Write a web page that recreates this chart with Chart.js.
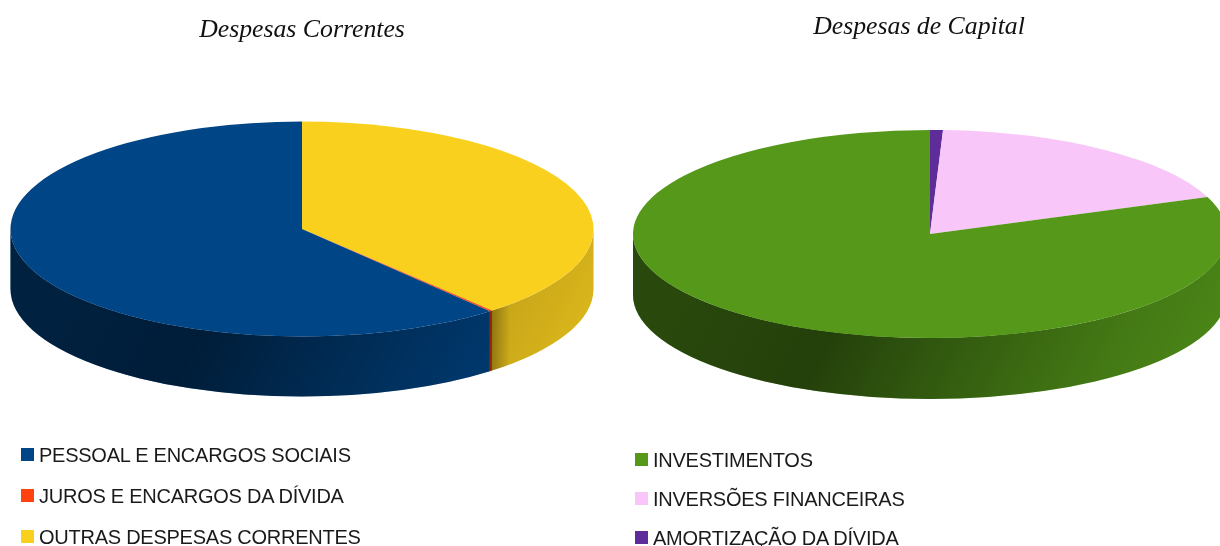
<!DOCTYPE html>
<html lang="pt">
<head>
    <meta charset="UTF-8">
    <title>Despesas</title>
    <script src="https://cdn.jsdelivr.net/npm/chart.js"></script>
    <style>
        html, body { margin: 0; background: #fff; overflow: hidden; width: 1220px; height: 546px; }
        canvas { position: absolute; top: 0; }
        #correntes { left: 0; }
        #capital { left: 622px; }
        .titulo { position: absolute; width: 400px; text-align: center; color: #111;
                  font: italic 25.75px "Liberation Serif", serif; line-height: 30px; }
        .item { position: absolute; color: #1a1a1a; white-space: nowrap;
                font: 20px "Liberation Sans", sans-serif; line-height: 24px; letter-spacing: -0.25px; }
        .item i { position: absolute; top: 5px; width: 13px; height: 13px; }
    </style>
</head>
<body>
  <canvas id="correntes" width="604" height="458"></canvas>
  <canvas id="capital" width="616" height="468"></canvas>
  <div class="titulo" style="left:102px;top:14px">Despesas Correntes</div>
  <div class="titulo" style="left:719px;top:11px">Despesas de Capital</div>
  <div id="legendas"></div>

  <script>
    const categoriasCorrentes = ['PESSOAL E ENCARGOS SOCIAIS', 'JUROS E ENCARGOS DA DÍVIDA', 'OUTRAS DESPESAS CORRENTES'];
    const valoresCorrentes = [61.15, 0.15, 38.7];
    const coresCorrentes = ['#004586', '#ff420e', '#fad01f'];

    const categoriasCapital = ['INVESTIMENTOS', 'INVERSÕES FINANCEIRAS', 'AMORTIZAÇÃO DA DÍVIDA'];
    const valoresCapital = [80.8, 18.5, 0.7];
    const coresCapital = ['#55981a', '#f8c6f9', '#5f2d9a'];

    // sombra preta da lateral, da esquerda para a direita da pizza
    const sombra = [[0, 0.52], [0.3, 0.58], [0.5, 0.42], [0.8, 0.2], [1, 0.1]];

    // achata a pizza e desenha a lateral por baixo
    const pizza3d = {
      id: 'pizza3d',
      beforeDatasetsDraw(chart, args, opts) {
        const ctx = chart.ctx;
        chart.getDatasetMeta(0).data.forEach((arc, i) => {
          const a = Math.max(arc.startAngle, 0);
          const b = Math.min(arc.endAngle, Math.PI);
          if (a >= b) return;
          const rx = arc.outerRadius;
          const ry = rx * opts.achatar;
          ctx.beginPath();
          ctx.ellipse(arc.x, arc.y, rx, ry, 0, a, b);
          ctx.ellipse(arc.x, arc.y + opts.altura, rx, ry, 0, b, a, true);
          ctx.closePath();
          ctx.fillStyle = arc.options.backgroundColor;
          ctx.fill();
          // gradiente um pouco inclinado, como no original
          const y0 = arc.y + ry + opts.altura / 2;
          const g = ctx.createLinearGradient(arc.x - rx, y0, arc.x + 0.6 * rx, y0 + 0.8 * rx);
          sombra.forEach(s => g.addColorStop(s[0], `rgba(0,0,0,${s[1]})`));
          ctx.fillStyle = g;
          ctx.fill();
          // canto escuro onde a fatia termina na frente
          if (arc.endAngle < Math.PI) {
            const xb = arc.x + rx * Math.cos(b);
            const e = ctx.createLinearGradient(xb, 0, xb + 18, 0);
            e.addColorStop(0, 'rgba(0,0,0,0.28)');
            e.addColorStop(1, 'rgba(0,0,0,0)');
            ctx.fillStyle = e;
            ctx.fill();
          }
        });
        const c = chart.getDatasetMeta(0).data[0];
        ctx.save();
        ctx.translate(c.x, c.y);
        ctx.scale(1, opts.achatar);
        ctx.translate(-c.x, -c.y);
      },
      afterDatasetsDraw(chart) {
        chart.ctx.restore();
      }
    };

    // o original gira no sentido anti-horário, por isso a ordem invertida
    function pizza(id, categorias, valores, cores, raio, achatar, altura) {
      return new Chart(document.getElementById(id), {
        type: 'pie',
        data: {
          labels: [...categorias].reverse(),
          datasets: [{
            data: [...valores].reverse(),
            backgroundColor: [...cores].reverse(),
            borderWidth: 0
          }]
        },
        options: {
          responsive: false,
          animation: false,
          radius: raio,
          plugins: {
            legend: { display: false },
            tooltip: { enabled: false },
            pizza3d: { achatar: achatar, altura: altura }
          }
        },
        plugins: [pizza3d]
      });
    }

    pizza('correntes', categoriasCorrentes, valoresCorrentes, coresCorrentes, 291.5, 107.5 / 291.5, 60);
    pizza('capital', categoriasCapital, valoresCapital, coresCapital, 297, 104 / 297, 61);

    function legenda(categorias, cores, x, ys) {
      categorias.forEach((nome, i) => {
        const d = document.createElement('div');
        d.className = 'item';
        d.style.left = x + 18 + 'px';
        d.style.top = ys[i] - 12 + 'px';
        d.textContent = nome;
        const q = document.createElement('i');
        q.style.left = '-18px';
        q.style.background = cores[i];
        d.appendChild(q);
        document.getElementById('legendas').appendChild(d);
      });
    }

    legenda(categoriasCorrentes, coresCorrentes, 21, [455, 496, 537]);
    legenda(categoriasCapital, coresCapital, 635, [460, 499, 538]);
  </script>
</body>
</html>
